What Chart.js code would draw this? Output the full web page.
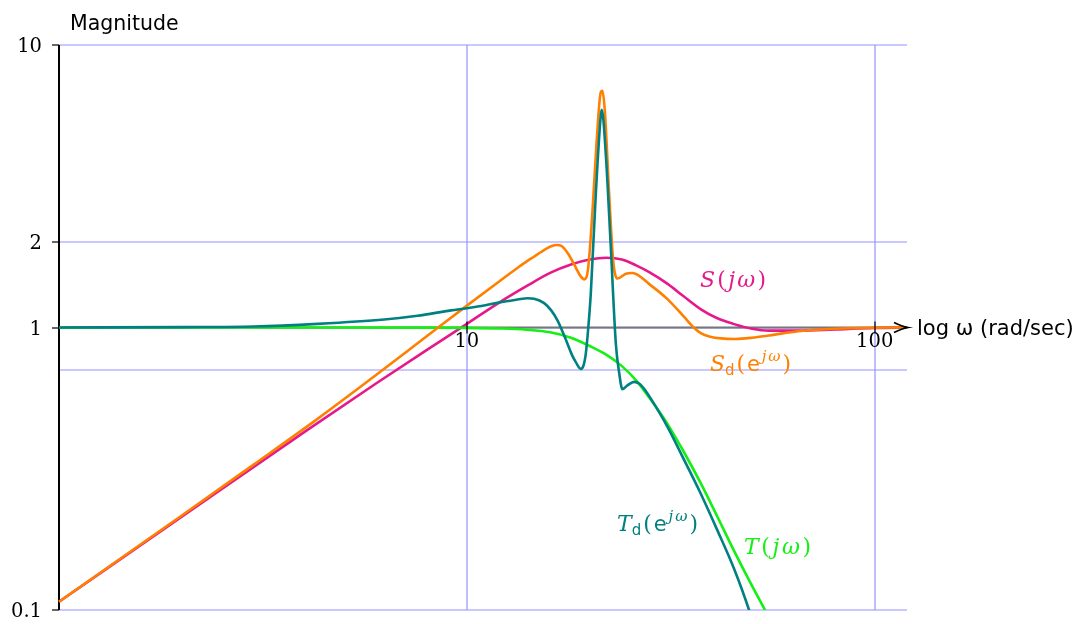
<!DOCTYPE html>
<html>
<head>
<meta charset="utf-8">
<script src="https://cdn.jsdelivr.net/npm/chart.js@4/dist/chart.umd.min.js"></script>
<style>
  html, body { margin: 0; padding: 0; background: #fff; overflow: hidden; }
  canvas { display: block; }
</style>
</head>
<body>
<canvas id="bode" width="1078" height="624"></canvas>
<script>
// Frequency grids (rad/sec) and magnitudes for each response
const omegaS  = [1, 2, 4, 6, 8, 10, 12, 14, 16, 18, 20, 22, 24, 26, 28, 31, 34, 37.5, 41, 45, 50, 55, 65, 80, 100, 120];
const magS    = [0.107, 0.214, 0.427, 0.635, 0.835, 1.03, 1.225, 1.40, 1.56, 1.67, 1.74, 1.765, 1.74, 1.66, 1.57, 1.43, 1.29, 1.16, 1.08, 1.03, 0.99, 0.975, 0.975, 0.985, 0.996, 1.0];

const omegaSd = [1, 2, 3, 4.28, 6, 8, 10, 12, 13.3, 14.0, 14.6, 15.2, 15.7, 16.1, 16.6, 17.1, 17.65, 18.1, 18.5, 19.0, 19.4, 19.83, 20.33, 20.79, 21.3, 21.5, 21.79, 22.33, 22.84, 23.41, 24.53, 25.47, 28.25, 31.04, 34.09, 36, 37.46, 39.5, 42, 45.5, 50, 55, 60, 66, 80, 100, 120];
const magSd   = [0.107, 0.216, 0.327, 0.472, 0.68, 0.935, 1.195, 1.455, 1.625, 1.71, 1.78, 1.85, 1.905, 1.94, 1.96, 1.94, 1.84, 1.73, 1.63, 1.52, 1.48, 1.62, 2.6, 4.46, 6.8, 6.88, 5.86, 2.97, 1.73, 1.49, 1.55, 1.56, 1.41, 1.26, 1.09, 1.0, 0.955, 0.928, 0.915, 0.911, 0.92, 0.937, 0.955, 0.972, 0.99, 0.998, 1.0];

const omegaT  = [1, 5, 8, 10, 12, 14, 16, 18, 20, 22, 24, 26, 28, 31, 34, 37.5, 41.2, 45.2, 49.7, 53.84, 66];
const magT    = [1.0, 1.0, 0.999, 0.997, 0.992, 0.982, 0.962, 0.92, 0.86, 0.80, 0.73, 0.65, 0.565, 0.457, 0.364, 0.28, 0.213, 0.162, 0.124, 0.1, 0.057];

const omegaTd = [1, 2, 3, 4.3, 6.27, 7.57, 9.14, 10, 11.03, 12.11, 13.31, 14.09, 14.62, 15.47, 16.1, 16.68, 17.2, 17.65, 18.1, 18.5, 19.03, 19.3, 19.57, 19.85, 20.13, 20.71, 21.3, 21.42, 21.91, 22.54, 23.19, 23.6, 24.07, 24.8, 25.7, 26.5, 27.2, 28.25, 31.04, 34.09, 37.46, 41.17, 45.2, 49.19, 55];
const magTd   = [1.0, 1.003, 1.008, 1.03, 1.067, 1.10, 1.15, 1.17, 1.196, 1.23, 1.256, 1.27, 1.265, 1.22, 1.15, 1.06, 0.96, 0.876, 0.80, 0.754, 0.714, 0.73, 0.807, 1.0, 1.316, 2.97, 5.63, 5.9, 4.12, 1.925, 0.876, 0.70, 0.605, 0.625, 0.642, 0.632, 0.607, 0.56, 0.445, 0.34, 0.258, 0.191, 0.140, 0.1, 0.058];

// Axis ticks and reference lines
const yTickValues = [10, 2, 1, 0.1];
const yTickLabels = ['10', '2', '1', '0.1'];
const yGridValues = [10, 2, 1, 0.707, 0.1];
const xTickValues = [10, 100];
const xTickLabels = ['10', '100'];

const MAGENTA = '#e6198b';
const ORANGE  = '#ff8000';
const TEAL    = '#008080';
const GREEN   = '#14f014';
const GRID    = '#9494ff';

const SERIF = '"DejaVu Serif", "Liberation Serif", serif';
const SANS  = '"DejaVu Sans", sans-serif';

const toPoints = (xs, ys) => xs.map((x, i) => ({ x: x, y: ys[i] }));

// Writes a formula piece by piece (italic letters, upright sans d/e, raised exponents),
// spreading the pieces so the whole formula spans the given width
function drawFormula(ctx, parts, x, y, width, color) {
  ctx.save();
  ctx.fillStyle = color;
  ctx.textAlign = 'left';
  ctx.textBaseline = 'alphabetic';
  let natural = 0;
  const widths = parts.map(p => { ctx.font = p.f; const w = ctx.measureText(p.t).width; natural += w; return w; });
  const gap = Math.max(-1, (width - natural) / (parts.length - 1));
  let cx = x;
  parts.forEach((p, i) => {
    ctx.font = p.f;
    ctx.fillText(p.t, cx, y + (p.dy || 0));
    cx += widths[i] + (p.tight ? 0 : gap);
  });
  ctx.restore();
}

const IT  = 'italic 22px ' + SERIF;
const UP  = '22px ' + SERIF;
const ITS = 'italic 15px ' + SERIF;
const SF  = '21px ' + SANS;
const SFS = '15px ' + SANS;

const labelS  = [{ t: 'S', f: IT }, { t: '(', f: UP }, { t: 'j', f: IT }, { t: 'ω', f: IT }, { t: ')', f: UP }];
const labelT  = [{ t: 'T', f: IT }, { t: '(', f: UP }, { t: 'j', f: IT }, { t: 'ω', f: IT }, { t: ')', f: UP }];
const labelSd = [{ t: 'S', f: IT, tight: true }, { t: 'd', f: SFS, dy: 4 }, { t: '(', f: UP }, { t: 'e', f: SF }, { t: 'j', f: ITS, dy: -10 }, { t: 'ω', f: ITS, dy: -10 }, { t: ')', f: UP }];
const labelTd = [{ t: 'T', f: IT, tight: true }, { t: 'd', f: SFS, dy: 4 }, { t: '(', f: UP }, { t: 'e', f: SF }, { t: 'j', f: ITS, dy: -10 }, { t: 'ω', f: ITS, dy: -10 }, { t: ')', f: UP }];

// Grid, vertical axis and the unity line go beneath the curves
const underlay = {
  id: 'underlay',
  beforeDatasetsDraw(chart) {
    const { ctx, chartArea: a, scales: { x, y } } = chart;
    ctx.save();
    ctx.strokeStyle = GRID;
    ctx.lineWidth = 1.2;
    for (const v of yGridValues) {
      const py = Math.round(y.getPixelForValue(v));
      ctx.beginPath(); ctx.moveTo(a.left, py); ctx.lineTo(a.right, py); ctx.stroke();
    }
    for (const v of xTickValues) {
      const px = Math.round(x.getPixelForValue(v));
      ctx.beginPath(); ctx.moveTo(px, a.top); ctx.lineTo(px, a.bottom); ctx.stroke();
    }
    // unity line used as the frequency axis
    const py1 = y.getPixelForValue(1);
    ctx.strokeStyle = '#77777f';
    ctx.lineWidth = 2;
    ctx.beginPath(); ctx.moveTo(a.left, py1); ctx.lineTo(a.right - 1, py1); ctx.stroke();
    // magnitude axis
    ctx.strokeStyle = '#000';
    ctx.lineWidth = 2;
    ctx.beginPath(); ctx.moveTo(a.left, a.top); ctx.lineTo(a.left, a.bottom); ctx.stroke();
    ctx.lineWidth = 1.2;
    for (const v of yTickValues) {
      const py = Math.round(y.getPixelForValue(v));
      ctx.beginPath(); ctx.moveTo(a.left - 7, py); ctx.lineTo(a.left, py); ctx.stroke();
    }
    ctx.restore();
  }
};

// Tick labels, arrow, axis titles and curve names on top
const overlay = {
  id: 'overlay',
  afterDatasetsDraw(chart) {
    const { ctx, chartArea: a, scales: { x, y } } = chart;
    ctx.save();
    const py1 = y.getPixelForValue(1);
    ctx.strokeStyle = '#000';
    ctx.lineWidth = 1.2;
    xTickValues.forEach(v => {
      const px = Math.round(x.getPixelForValue(v));
      ctx.beginPath(); ctx.moveTo(px, py1 - 6); ctx.lineTo(px, py1 + 6); ctx.stroke();
    });
    // arrow head at the end of the frequency axis
    ctx.lineWidth = 1.7;
    ctx.beginPath();
    ctx.moveTo(a.right - 13, py1 - 5);
    ctx.quadraticCurveTo(a.right - 5, py1 - 1, a.right + 1, py1);
    ctx.quadraticCurveTo(a.right - 5, py1 + 1, a.right - 13, py1 + 5);
    ctx.stroke();

    ctx.fillStyle = '#000';
    ctx.font = '19.5px ' + SERIF;
    ctx.textAlign = 'center';
    ctx.textBaseline = 'alphabetic';
    xTickValues.forEach((v, i) => {
      ctx.fillText(xTickLabels[i], x.getPixelForValue(v), py1 + 19);
    });
    ctx.textAlign = 'right';
    yTickValues.forEach((v, i) => {
      ctx.fillText(yTickLabels[i], a.left - 17, y.getPixelForValue(v) + 7);
    });

    ctx.textAlign = 'left';
    ctx.font = '20.5px ' + SANS;
    ctx.fillText('Magnitude', 70, 30);
    ctx.font = '21px ' + SANS;
    ctx.fillText('log ω (rad/sec)', a.right + 10, py1 + 7);
    ctx.restore();

    drawFormula(ctx, labelS, 700, 287, 66, MAGENTA);
    drawFormula(ctx, labelSd, 710, 371, 83, ORANGE);
    drawFormula(ctx, labelTd, 617, 531, 83, TEAL);
    drawFormula(ctx, labelT, 744, 554, 67, GREEN);
  }
};

const lineStyle = (color, order) => ({
  borderColor: color,
  borderWidth: 2.6,
  pointRadius: 0,
  fill: false,
  cubicInterpolationMode: 'monotone',
  order: order,
  clip: { left: 2, top: 2, right: 3, bottom: 0 }
});

new Chart(document.getElementById('bode'), {
  type: 'line',
  data: {
    datasets: [
      Object.assign({ label: 'T_d(e^jω)', data: toPoints(omegaTd, magTd) }, lineStyle(TEAL, 0)),
      Object.assign({ label: 'S_d(e^jω)', data: toPoints(omegaSd, magSd) }, lineStyle(ORANGE, 1)),
      Object.assign({ label: 'T(jω)', data: toPoints(omegaT, magT) }, lineStyle(GREEN, 2)),
      Object.assign({ label: 'S(jω)', data: toPoints(omegaS, magS) }, lineStyle(MAGENTA, 3))
    ]
  },
  options: {
    responsive: false,
    animation: false,
    devicePixelRatio: 1,
    layout: { padding: { left: 59, top: 45, right: 171, bottom: 14 } },
    plugins: { legend: { display: false }, tooltip: { enabled: false } },
    scales: {
      x: { type: 'logarithmic', min: 1, max: 120, display: false },
      y: { type: 'logarithmic', min: 0.1, max: 10, display: false }
    }
  },
  plugins: [underlay, overlay]
});
</script>
</body>
</html>
